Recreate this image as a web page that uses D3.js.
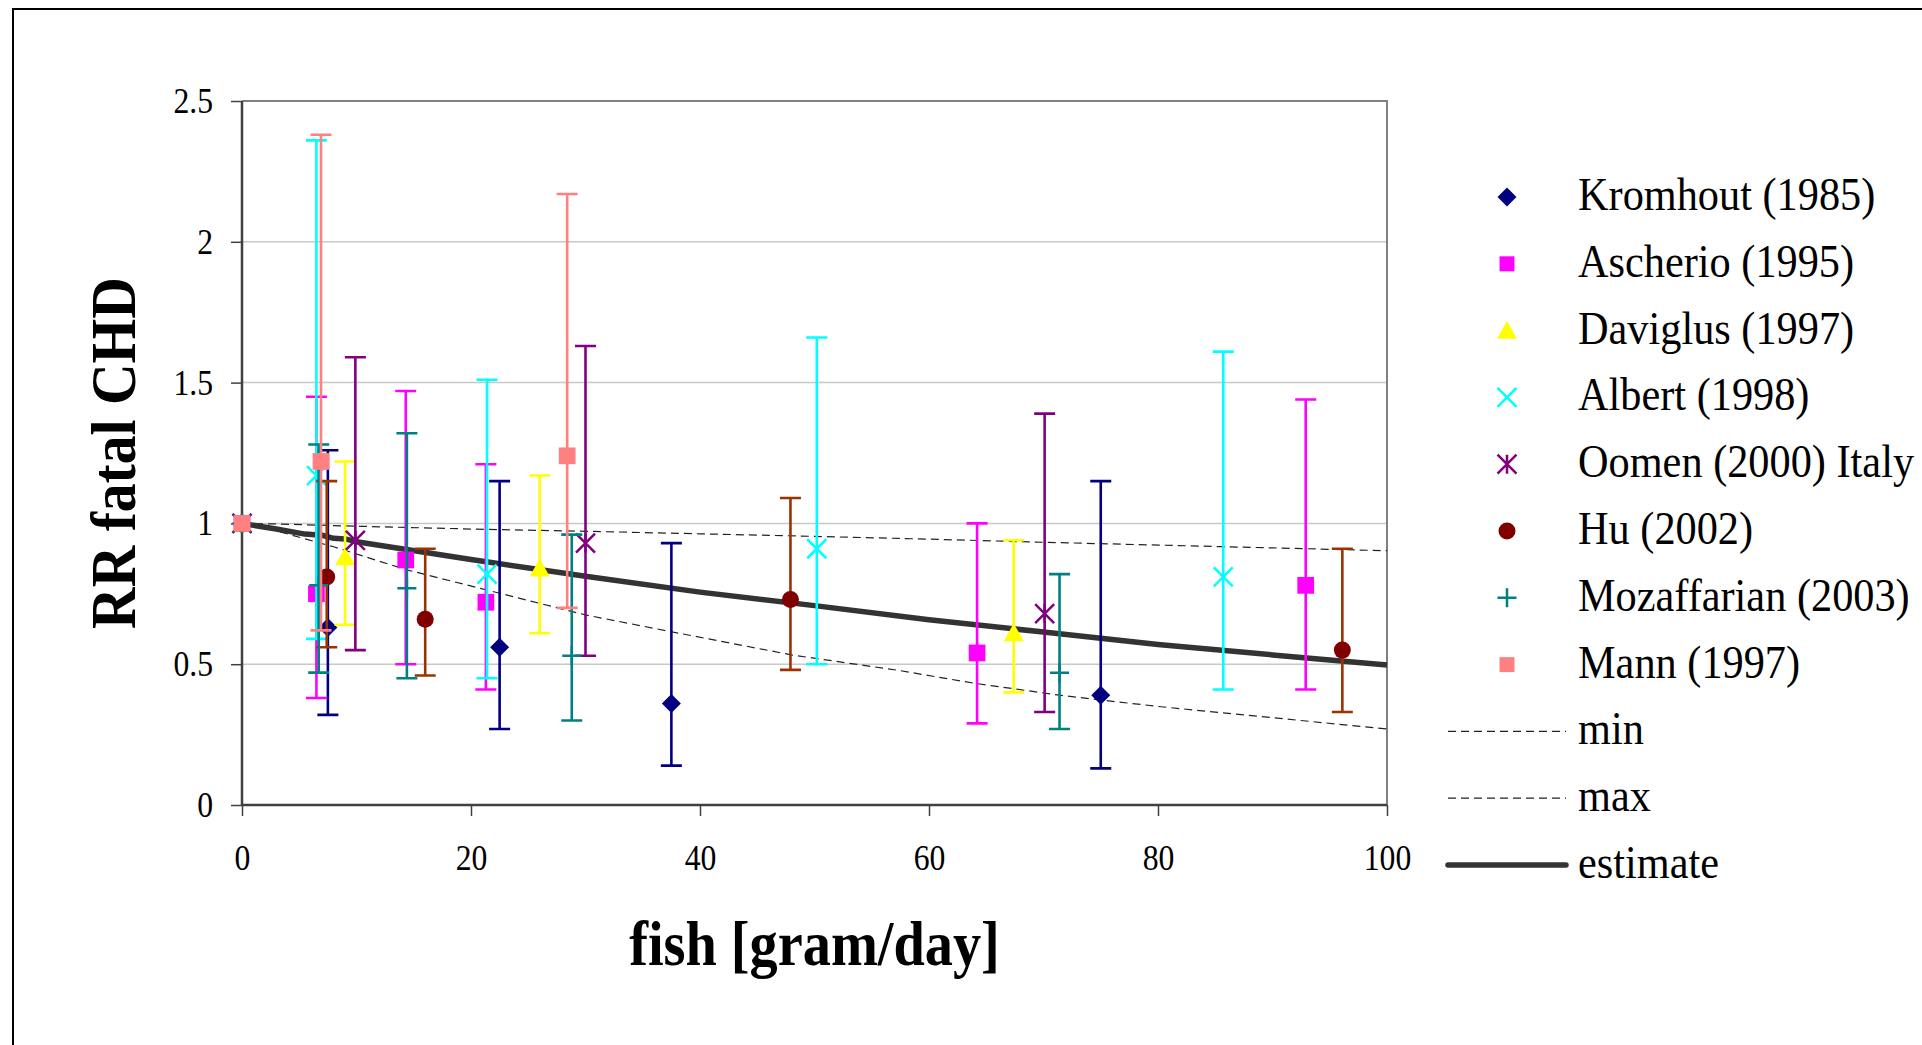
<!DOCTYPE html>
<html>
<head>
<meta charset="utf-8">
<script src="https://cdn.jsdelivr.net/npm/d3@7"></script>
<style>
  html, body { margin: 0; padding: 0; background: #fff; }
  svg { display: block; }
  text { font-family: "Liberation Serif", "Times New Roman", serif; fill: #000; }
</style>
</head>
<body>
<svg id="viz"></svg>
<script>
// ----------------------- DATA
// each point: [fish g/day, RR, lower, upper]
const kromhout = [[0, 1, null, null], [7.5, 0.63, 0.32, 1.26], [22.5, 0.56, 0.27, 1.15], [37.5, 0.36, 0.14, 0.93], [75, 0.39, 0.13, 1.15]];
const ascherio = [[0, 1, null, null], [6.5, 0.75, 0.38, 1.45], [14.3, 0.87, 0.50, 1.47], [21.3, 0.72, 0.41, 1.21], [64.2, 0.54, 0.29, 1.00], [92.9, 0.78, 0.41, 1.44]];
const daviglus = [[0, 1, null, null], [9.0, 0.88, 0.64, 1.22], [26.0, 0.84, 0.61, 1.17], [67.4, 0.61, 0.40, 0.94]];
const albert = [[0, 1, null, null], [6.5, 1.17, 0.59, 2.36], [21.4, 0.82, 0.45, 1.51], [50.2, 0.91, 0.50, 1.66], [85.7, 0.81, 0.41, 1.61]];
const oomen = [[0, 1, null, null], [9.9, 0.94, 0.55, 1.59], [30.0, 0.93, 0.53, 1.63], [70.1, 0.68, 0.33, 1.39]];
const hu = [[0, 1, null, null], [7.4, 0.81, 0.56, 1.15], [16.0, 0.66, 0.46, 0.91], [47.9, 0.73, 0.48, 1.09], [96.1, 0.55, 0.33, 0.91]];
const mozaffarian = [[0, 1, null, null], [6.7, 0.78, 0.47, 1.28], [14.4, 0.77, 0.45, 1.32], [28.8, 0.53, 0.30, 0.96], [71.4, 0.47, 0.27, 0.82]];
const mann = [[0, 1, null, null], [6.9, 1.22, 0.62, 2.38], [28.4, 1.24, 0.70, 2.17]];

// curves
const minCurve = [[0, 1.0], [3, 0.998], [10, 0.99], [20, 0.98], [30, 0.972], [40, 0.963], [50, 0.954], [60, 0.944], [70, 0.933], [80, 0.923], [90, 0.913], [100, 0.903]];
const maxCurve = [[0, 1.0], [2, 0.985], [8, 0.917], [14.4, 0.835], [22.5, 0.752], [30, 0.675], [37.4, 0.616], [48, 0.533], [57.5, 0.477], [64, 0.432], [71.4, 0.39], [75, 0.373], [80, 0.35], [90, 0.31], [100, 0.27]];
const estimate = [[0, 1.0], [3, 0.98], [5.5, 0.962], [7, 0.958], [8, 0.947], [9, 0.945], [10, 0.935], [20, 0.872], [30, 0.812], [40, 0.756], [50, 0.708], [60, 0.658], [70, 0.614], [80, 0.57], [90, 0.533], [100, 0.497]];

const xTicks = [0, 20, 40, 60, 80, 100];
const yTicks = [0, 0.5, 1, 1.5, 2, 2.5];

const series = [
  { name: 'Kromhout (1985)', data: kromhout, shape: 'diamond', color: '#000080', bar: '#000080' },
  { name: 'Ascherio (1995)', data: ascherio, shape: 'square', color: '#ff00ff', bar: '#ff00ff' },
  { name: 'Daviglus (1997)', data: daviglus, shape: 'triangle', color: '#ffff00', bar: '#ffff00' },
  { name: 'Albert (1998)', data: albert, shape: 'cross', color: '#00ffff', bar: '#00ffff' },
  { name: 'Oomen (2000) Italy', data: oomen, shape: 'star', color: '#800080', bar: '#800080' },
  { name: 'Hu (2002)', data: hu, shape: 'circle', color: '#800000', bar: '#993300' },
  { name: 'Mozaffarian (2003)', data: mozaffarian, shape: 'plus', color: '#008080', bar: '#008080' },
  { name: 'Mann (1997)', data: mann, shape: 'square', color: '#ff8080', bar: '#ff8080' }
];

// ----------------------- SETTINGS
const W = 1922, H = 1045;
const plot = { left: 242, right: 1387, top: 101, bottom: 805 };

const svg = d3.select('#viz').attr('width', W).attr('height', H);

// outer frame (runs off the picture at right and bottom)
svg.append('rect')
  .attr('x', 13).attr('y', 9)
  .attr('width', W + 20).attr('height', H + 20)
  .attr('fill', 'none').attr('stroke', '#000').attr('stroke-width', 2);

const x = d3.scaleLinear().domain([0, 100]).range([plot.left, plot.right]);
const y = d3.scaleLinear().domain([0, 2.5]).range([plot.bottom, plot.top]);

// gridlines
svg.append('g')
  .selectAll('line')
  .data(yTicks.filter(d => d > 0 && d < 2.5))
  .enter().append('line')
  .attr('x1', plot.left).attr('x2', plot.right)
  .attr('y1', d => y(d)).attr('y2', d => y(d))
  .attr('stroke', '#c8c8c8').attr('stroke-width', 1.5);

// top + right border
svg.append('path')
  .attr('d', `M${plot.left},${plot.top}H${plot.right}V${plot.bottom}`)
  .attr('fill', 'none').attr('stroke', '#808080').attr('stroke-width', 2);

// axes
const yAxis = svg.append('g')
  .attr('transform', `translate(${plot.left},0)`)
  .call(d3.axisLeft(y).tickValues(yTicks).tickSize(11).tickPadding(18).tickFormat(d3.format('')));
const xAxis = svg.append('g')
  .attr('transform', `translate(0,${plot.bottom})`)
  .call(d3.axisBottom(x).tickValues(xTicks).tickSize(11).tickPadding(28));

[yAxis, xAxis].forEach(ax => {
  ax.select('.domain').attr('stroke', '#404040').attr('stroke-width', 2.5);
  ax.selectAll('.tick line').attr('stroke', '#404040').attr('stroke-width', 1.5);
  ax.selectAll('.tick text')
    .attr('font-family', '"Liberation Serif", "Times New Roman", serif')
    .attr('font-size', 36).attr('fill', '#000');
});
yAxis.select('.domain').attr('d', `M0,${plot.top}V${plot.bottom}`);
xAxis.select('.domain').attr('d', `M${plot.left},0H${plot.right}`);
// squeeze the labels a bit, Excel-style
yAxis.selectAll('.tick text').attr('transform', 'translate(-29,0) scale(0.88,1)').attr('x', 0);
xAxis.selectAll('.tick text').attr('transform', 'scale(0.88,1)');

// ----------------------- CURVES
const line = d3.line().x(d => x(d[0])).y(d => y(d[1]));

[minCurve, maxCurve].forEach(c => {
  svg.append('path').datum(c)
    .attr('d', line)
    .attr('fill', 'none').attr('stroke', '#222').attr('stroke-width', 1.2)
    .attr('stroke-dasharray', '8,5');
});
svg.append('path').datum(estimate)
  .attr('d', line)
  .attr('fill', 'none').attr('stroke', '#333').attr('stroke-width', 5.5)
  .attr('stroke-linejoin', 'round');

// ----------------------- MARKERS
function shapePath(shape, r) {
  switch (shape) {
    case 'diamond': return `M0,${-r}L${r},0L0,${r}L${-r},0Z`;
    case 'square': return `M${-r * 0.88},${-r * 0.88}h${r * 1.76}v${r * 1.76}h${-r * 1.76}Z`;
    case 'triangle': return `M0,${-r * 1.05}L${r * 1.05},${r * 0.85}L${-r * 1.05},${r * 0.85}Z`;
    case 'circle': return d3.symbol(d3.symbolCircle, Math.PI * r * r * 0.8)();
    case 'cross': return `M${-r},${-r}L${r},${r}M${r},${-r}L${-r},${r}`;
    case 'star': return `M${-r},${-r}L${r},${r}M${r},${-r}L${-r},${r}M0,${-r}V${r}`;
    case 'plus': return `M${-r},0H${r}M0,${-r}V${r}`;
  }
}
const isStroke = s => s === 'cross' || s === 'star' || s === 'plus';

function drawMarker(g, s, r) {
  const p = g.append('path').attr('d', shapePath(s.shape, r));
  if (isStroke(s.shape)) {
    p.attr('fill', 'none').attr('stroke', s.color).attr('stroke-width', 2.5);
  } else {
    p.attr('fill', s.color);
  }
  return p;
}

const cap = 10.5;
series.forEach(s => {
  const g = svg.append('g');
  const withErr = s.data.filter(d => d[2] != null);
  g.selectAll('.err').data(withErr).enter().append('path')
    .attr('class', 'err')
    .attr('d', d => {
      const px = x(d[0]), lo = y(d[2]), hi = y(d[3]);
      return `M${px},${lo}V${hi}M${px - cap},${hi}H${px + cap}M${px - cap},${lo}H${px + cap}`;
    })
    .attr('fill', 'none').attr('stroke', s.bar).attr('stroke-width', 2.6);

  s.data.forEach(d => {
    const m = g.append('g').attr('transform', `translate(${x(d[0])},${y(d[1])})`);
    drawMarker(m, s, 9.5);
  });
});

// ----------------------- LEGEND
const legX = 1507, legText = 1578, legY0 = 197, legStep = 66.8;

function legendLabel(txt, i) {
  svg.append('text')
    .attr('transform', `translate(${legText},${legY0 + i * legStep + 13}) scale(0.92,1)`)
    .attr('font-size', 46)
    .text(txt);
}

series.forEach((s, i) => {
  const m = svg.append('g').attr('transform', `translate(${legX},${legY0 + i * legStep})`);
  drawMarker(m, s, s.shape === 'square' ? 8.5 : 9.5);
  legendLabel(s.name, i);
});

const lineLegend = [
  { name: 'min', dash: '8,5', width: 1.2, color: '#222' },
  { name: 'max', dash: '8,5', width: 1.2, color: '#222' },
  { name: 'estimate', dash: null, width: 5.5, color: '#333' }
];
lineLegend.forEach((l, j) => {
  const i = series.length + j;
  const ly = legY0 + i * legStep;
  svg.append('line')
    .attr('x1', 1448).attr('x2', 1566)
    .attr('y1', ly).attr('y2', ly)
    .attr('stroke', l.color).attr('stroke-width', l.width)
    .attr('stroke-dasharray', l.dash)
    .attr('stroke-linecap', l.dash ? 'butt' : 'round');
  legendLabel(l.name, i);
});

// ----------------------- AXIS TITLES
svg.append('text')
  .attr('transform', `translate(135,${(plot.top + plot.bottom) / 2}) rotate(-90) scale(0.9,1)`)
  .attr('text-anchor', 'middle')
  .attr('font-size', 64).attr('font-weight', 'bold')
  .text('RR fatal CHD');

svg.append('text')
  .attr('transform', `translate(${(plot.left + plot.right) / 2},965) scale(0.88,1)`)
  .attr('text-anchor', 'middle')
  .attr('font-size', 64).attr('font-weight', 'bold')
  .text('fish [gram/day]');
</script>
</body>
</html>
